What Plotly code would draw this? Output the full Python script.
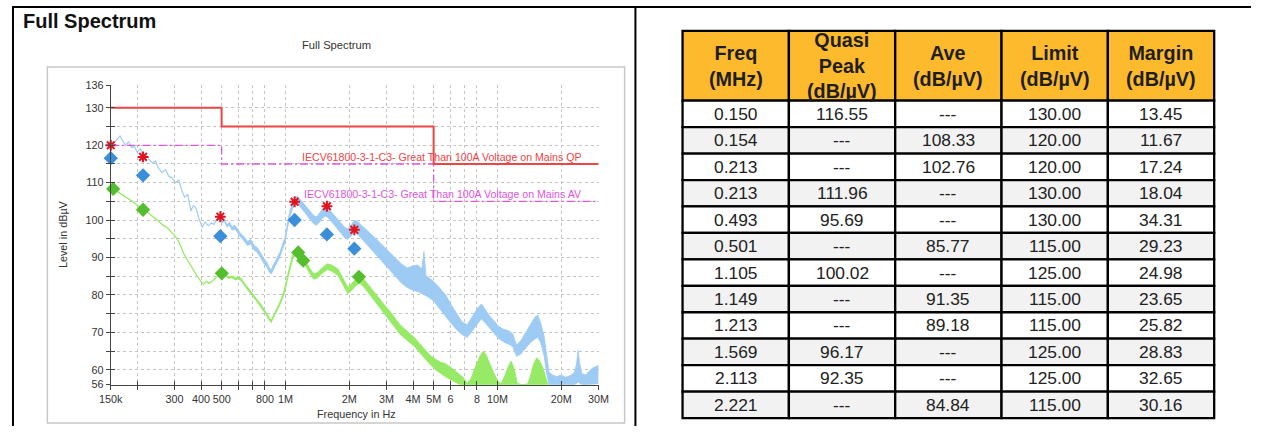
import numpy as np
import plotly.graph_objects as go

# ---------------------------------------------------------------------------
# Spectrum scan (frequency in MHz, level in dBµV). The scans are very noisy,
# so each one is stored as the upper and lower edge of its trace.
# ---------------------------------------------------------------------------
peak_freq_mhz = [
    0.150, 0.155, 0.160, 0.166, 0.171, 0.176, 0.182, 0.188, 0.194, 0.200,
    0.207, 0.214, 0.221, 0.228, 0.236, 0.244, 0.252, 0.262, 0.272, 0.282,
    0.292, 0.303, 0.314, 0.325, 0.335, 0.346, 0.358, 0.368, 0.378, 0.390,
    0.405, 0.418, 0.432, 0.446, 0.460, 0.475, 0.489, 0.502, 0.515, 0.530,
    0.545, 0.560, 0.578, 0.595, 0.615, 0.638, 0.662, 0.686, 0.712, 0.738,
    0.765, 0.792, 0.820, 0.840, 0.858, 0.875, 0.895, 0.920, 0.945, 0.970,
    0.995, 1.02, 1.05, 1.08, 1.11, 1.14, 1.18, 1.22, 1.26, 1.31,
    1.36, 1.40, 1.45, 1.50, 1.55, 1.60, 1.67, 1.74, 1.82, 1.90,
    1.97, 2.04, 2.12, 2.20, 2.30, 2.42, 2.56, 2.72, 2.90, 3.10,
    3.30, 3.52, 3.75, 4.00, 4.20, 4.40, 4.50, 4.60, 4.80, 5.00,
    5.35, 5.70, 6.05, 6.40, 6.80, 7.20, 7.60, 8.00, 8.40, 8.80,
    9.20, 9.60, 10.1, 10.7, 11.3, 11.8, 12.3, 12.9, 13.6, 14.3,
    15.0, 15.5, 16.0, 16.6, 17.1, 17.5, 18.2, 19.0, 20.0, 21.0,
    22.0, 23.0, 23.6, 24.0, 24.4, 25.0, 26.0, 27.0, 28.0, 29.0,
    30.0,
]
peak_upper = [
    119.6, 120.8, 121.5, 122.6, 121.2, 120.2, 121.0, 119.5, 119.8, 118.2,
    119.2, 117.0, 117.6, 116.2, 115.3, 115.9, 113.9, 112.8, 113.6, 111.8,
    111.4, 110.1, 110.8, 107.9, 106.2, 107.0, 102.6, 104.0, 103.4, 100.6,
    98.2, 99.6, 98.6, 99.3, 99.0, 100.2, 100.8, 99.6, 100.1, 98.8,
    99.4, 98.2, 98.6, 97.4, 96.4, 95.6, 94.3, 94.8, 93.2, 92.6,
    91.0, 89.7, 88.6, 87.2, 86.7, 88.0, 88.9, 90.2, 91.6, 93.6,
    95.4, 99.0, 102.5, 104.6, 106.0, 106.4, 105.4, 104.2, 103.3, 102.3,
    101.2, 100.8, 101.8, 103.0, 103.6, 103.0, 101.8, 100.6, 99.3, 98.1,
    97.6, 98.8, 100.0, 99.5, 98.4, 97.3, 96.0, 94.6, 93.0, 91.4,
    89.8, 88.3, 87.2, 87.8, 88.0, 87.0, 91.6, 85.2, 84.4, 83.6,
    81.8, 80.0, 77.4, 75.0, 72.8, 72.0, 74.3, 76.2, 77.6, 76.0,
    74.3, 73.2, 71.6, 70.8, 70.4, 69.6, 66.6, 67.8, 70.0, 72.2,
    74.0, 74.6, 72.4, 69.0, 64.0, 59.4, 58.6, 58.2, 58.5, 58.0,
    58.4, 59.2, 61.5, 65.2, 61.8, 59.0, 58.6, 59.4, 60.4, 60.8,
    61.2,
]
peak_lower = [
    119.4, 120.6, 121.3, 122.4, 121.0, 120.0, 120.8, 119.3, 119.6, 118.0,
    119.0, 116.8, 117.4, 116.0, 115.1, 115.7, 113.7, 112.6, 113.4, 111.6,
    111.2, 109.9, 110.6, 107.7, 106.0, 106.8, 102.4, 103.8, 103.2, 100.4,
    98.0, 99.4, 98.4, 99.1, 98.8, 100.0, 100.6, 99.3, 99.6, 98.2,
    98.6, 97.3, 97.6, 96.4, 95.4, 94.5, 93.2, 93.6, 92.0, 91.3,
    89.7, 88.4, 87.3, 86.0, 85.6, 86.8, 87.7, 89.0, 90.4, 92.3,
    94.0, 97.5, 101.0, 103.0, 104.2, 104.5, 103.4, 102.1, 101.1, 100.1,
    99.0, 98.6, 99.5, 100.6, 101.1, 100.5, 99.2, 97.9, 96.5, 95.3,
    94.8, 95.8, 96.8, 96.1, 94.9, 93.6, 92.1, 90.4, 88.7, 86.8,
    85.0, 83.2, 82.0, 81.2, 80.9, 80.4, 80.2, 79.8, 79.1, 78.4,
    76.2, 74.4, 72.4, 70.8, 69.4, 68.6, 70.4, 72.2, 73.6, 72.4,
    71.0, 69.8, 68.4, 67.4, 66.8, 66.2, 63.6, 64.2, 65.8, 67.2,
    68.2, 68.6, 67.2, 63.7, 58.7, 56.0, 56.0, 56.0, 56.0, 56.0,
    56.0, 56.0, 56.3, 56.8, 56.4, 56.0, 56.0, 56.0, 56.0, 56.2,
    56.4,
]

avg_freq_mhz = [
    0.150, 0.158, 0.166, 0.175, 0.185, 0.195, 0.205, 0.215, 0.226, 0.238,
    0.250, 0.262, 0.275, 0.288, 0.300, 0.312, 0.323, 0.334, 0.346, 0.358,
    0.372, 0.386, 0.400, 0.412, 0.424, 0.436, 0.448, 0.460, 0.474, 0.490,
    0.506, 0.522, 0.540, 0.560, 0.580, 0.600, 0.620, 0.645, 0.672, 0.700,
    0.730, 0.765, 0.800, 0.830, 0.855, 0.880, 0.905, 0.930, 0.960, 0.990,
    1.02, 1.05, 1.08, 1.12, 1.16, 1.20, 1.25, 1.30, 1.36, 1.42,
    1.50, 1.58, 1.66, 1.77, 1.87, 1.97, 2.05, 2.15, 2.24, 2.36,
    2.49, 2.63, 2.79, 2.95, 3.10, 3.28, 3.46, 3.65, 3.85, 4.05,
    4.25, 4.50, 4.80, 5.10, 5.40, 5.70, 6.00, 6.30, 6.60, 6.90,
    7.20, 7.50, 7.90, 8.30, 8.60, 8.90, 9.30, 9.70, 10.1, 10.4,
    10.8, 11.2, 11.6, 12.0, 12.4, 13.0, 13.9, 14.3, 14.8, 15.3,
    15.8, 16.4, 17.0, 17.3,
]
avg_upper = [
    108.9, 108.0, 107.3, 106.3, 105.5, 104.6, 103.6, 103.0, 101.9, 100.9,
    100.0, 98.9, 98.2, 97.1, 96.0, 94.6, 92.6, 90.8, 89.3, 87.8,
    86.4, 84.9, 83.6, 83.0, 83.7, 83.2, 83.6, 84.1, 84.9, 85.8,
    86.4, 85.4, 84.8, 85.1, 84.5, 84.9, 84.3, 82.9, 81.5, 80.4,
    79.0, 77.5, 75.8, 74.3, 73.2, 74.6, 75.9, 77.4, 79.3, 81.6,
    85.0, 88.2, 90.6, 91.9, 92.3, 90.6, 88.8, 87.2, 85.6, 86.0,
    87.4, 88.3, 87.9, 86.9, 84.4, 82.0, 83.0, 84.4, 85.3, 84.0,
    82.3, 80.6, 78.9, 77.1, 75.7, 73.9, 72.1, 70.9, 69.8, 68.6,
    67.3, 65.6, 63.9, 62.8, 62.0, 61.6, 60.8, 59.8, 58.8, 57.9,
    56.4, 57.6, 61.0, 63.8, 65.0, 63.6, 61.0, 58.6, 56.8, 56.2,
    58.2, 60.6, 62.3, 60.2, 56.4, 56.0, 56.2, 58.2, 61.4, 63.2,
    62.4, 60.4, 57.4, 56.0,
]
avg_lower = [
    108.7, 107.8, 107.1, 106.1, 105.3, 104.4, 103.4, 102.8, 101.7, 100.7,
    99.8, 98.7, 98.0, 96.9, 95.8, 94.4, 92.4, 90.6, 89.1, 87.6,
    86.2, 84.7, 83.4, 82.8, 83.5, 83.0, 83.4, 83.9, 84.7, 85.6,
    86.1, 85.0, 84.4, 84.6, 84.0, 84.3, 83.7, 82.3, 80.9, 79.8,
    78.4, 76.9, 75.2, 73.7, 72.6, 74.0, 75.3, 76.7, 78.5, 80.6,
    83.9, 87.1, 89.5, 90.7, 91.1, 89.3, 87.4, 85.8, 84.2, 84.6,
    85.9, 86.8, 86.3, 85.2, 82.7, 80.3, 81.2, 82.5, 83.2, 81.9,
    80.2, 78.4, 76.6, 74.6, 73.0, 71.3, 69.6, 68.4, 67.4, 66.3,
    64.9, 63.2, 61.5, 60.0, 58.9, 58.1, 57.4, 56.7, 56.1, 56.0,
    56.0, 56.0, 56.0, 56.0, 56.0, 56.0, 56.0, 56.0, 56.0, 56.0,
    56.0, 56.0, 56.0, 56.0, 56.0, 56.0, 56.0, 56.0, 56.0, 56.0,
    56.0, 56.0, 56.0, 56.0,
]

# Limit lines (step functions, value holds until the next break frequency)
limit_freq_mhz = [0.15, 0.5, 5.0, 30.0]
qp_limit_db = [130, 125, 115, 115]
av_limit_db = [120, 115, 105, 105]
qp_limit_name = "IECV61800-3-1-C3- Great Than 100A Voltage on Mains QP"
av_limit_name = "IECV61800-3-1-C3- Great Than 100A Voltage on Mains AV"

# Final measurements
meas_freq_mhz = [0.150, 0.154, 0.213, 0.213, 0.493, 0.501,
                 1.105, 1.149, 1.213, 1.569, 2.113, 2.221]
qp_level = [116.55, None, None, 111.96, 95.69, None,
            100.02, None, None, 96.17, 92.35, None]
ave_level = [None, 108.33, 102.76, None, None, 85.77,
             None, 91.35, 89.18, None, None, 84.84]
limit_level = [130.00, 120.00, 120.00, 130.00, 130.00, 115.00,
               125.00, 115.00, 115.00, 125.00, 125.00, 115.00]
margin_db = [13.45, 11.67, 17.24, 18.04, 34.31, 29.23,
             24.98, 23.65, 25.82, 28.83, 32.65, 30.16]
# preview peak level found at each quasi-peak frequency
qp_preview_peak = [120.0, 116.9, 100.9, 104.9, 103.7, 97.4]

table_headers = ["Freq<br>(MHz)", "Quasi<br>Peak<br>(dB/µV)", "Ave<br>(dB/µV)",
                 "Limit<br>(dB/µV)", "Margin<br>(dB/µV)"]

# Axis ticks
x_tick_hz = [150e3, 200e3, 300e3, 400e3, 500e3, 600e3, 700e3, 800e3, 1e6,
             2e6, 3e6, 4e6, 5e6, 6e6, 7e6, 8e6, 10e6, 20e6, 30e6]
x_tick_text = ["150k", "", "300", "400", "500", "", "", "800", "1M",
               "2M", "3M", "4M", "5M", "6", "", "8", "10M", "20M", "30M"]
y_tick_vals = [56, 60, 65, 70, 75, 80, 85, 90, 95, 100, 105, 110, 115,
               120, 125, 130, 136]
y_tick_text = ["56", "60", "", "70", "", "80", "", "90", "", "100", "",
               "110", "", "120", "", "130", "136"]

# ---------------------------------------------------------------------------
# Page geometry (pixels) and helpers
# ---------------------------------------------------------------------------
W, H = 1262, 432
FONT = "Liberation Sans"

def fx(px):
    return px / W

def fy(py):
    return 1 - py / H

PLOT_L, PLOT_R, PLOT_T, PLOT_B = 100.6, 597.5, 81.7, 389.5

BLUE_SCAN = "#9ECBF4"
GREEN_SCAN = "#96EA66"
QP_RED = "#EE4444"
AV_MAGENTA = "#DD55DD"
STAR_RED = "#E0141E"
AXIS = "#444444"
GRID = "#C4C4C4"


def mhz(seq):
    """MHz list -> Hz array, rounded to whole Hz so 0.15 MHz lands exactly on 150 kHz."""
    return np.round(np.asarray(seq, dtype=float) * 1e6)


fig = go.Figure()

# Peak scan band
fig.add_trace(go.Scatter(x=mhz(peak_freq_mhz), y=peak_lower, mode="lines",
                         line=dict(color=BLUE_SCAN, width=0.8), hoverinfo="skip"))
fig.add_trace(go.Scatter(x=mhz(peak_freq_mhz), y=peak_upper, mode="lines",
                         fill="tonexty", fillcolor=BLUE_SCAN,
                         line=dict(color=BLUE_SCAN, width=0.8), hoverinfo="skip"))
# Average scan band
fig.add_trace(go.Scatter(x=mhz(avg_freq_mhz), y=avg_lower, mode="lines",
                         line=dict(color=GREEN_SCAN, width=0.9), hoverinfo="skip"))
fig.add_trace(go.Scatter(x=mhz(avg_freq_mhz), y=avg_upper, mode="lines",
                         fill="tonexty", fillcolor=GREEN_SCAN,
                         line=dict(color=GREEN_SCAN, width=0.9), hoverinfo="skip"))

# Limit lines live on the overlay axes (x2/y2) that carry the inner tick marks
fig.add_trace(go.Scatter(x=mhz(limit_freq_mhz), y=av_limit_db, mode="lines",
                         line=dict(color=AV_MAGENTA, width=1.3, shape="hv",
                                   dash="8px,3px,2px,3px"),
                         xaxis="x2", yaxis="y2"))
fig.add_trace(go.Scatter(x=mhz(limit_freq_mhz), y=qp_limit_db, mode="lines",
                         line=dict(color=QP_RED, width=2, shape="hv"),
                         xaxis="x2", yaxis="y2"))

# Final measurement markers (not clipped at the 150 kHz edge)
qp_f = [f for f, v in zip(meas_freq_mhz, qp_level) if v is not None]
qp_v = [v for v in qp_level if v is not None]
av_f = [f for f, v in zip(meas_freq_mhz, ave_level) if v is not None]
av_v = [v for v in ave_level if v is not None]

fig.add_trace(go.Scatter(x=mhz(qp_f), y=qp_preview_peak, mode="markers",
                         cliponaxis=False,
                         marker=dict(symbol="asterisk-open", size=9, color=STAR_RED,
                                     line=dict(color=STAR_RED, width=2.0))))
fig.add_trace(go.Scatter(x=mhz(qp_f), y=qp_v, mode="markers", cliponaxis=False,
                         marker=dict(symbol="diamond", size=11, color="#3A8EDA")))
fig.add_trace(go.Scatter(x=mhz(av_f), y=av_v, mode="markers", cliponaxis=False,
                         marker=dict(symbol="diamond", size=11, color="#55BE2E")))

# slightly padded range so the 150 kHz / 30 MHz points sit inside the axis
x_range = [np.log10(150e3) - 1e-6, np.log10(30e6) + 1e-6]
tick_font = dict(family=FONT, size=10.8, color="#333333")

annotations = [
    dict(text="Full Spectrum", x=fx(9), y=fy(15.5), xref="paper", yref="paper",
         xanchor="left", yanchor="middle", showarrow=False,
         font=dict(family=FONT, size=20, color="#111111", weight="bold")),
    dict(text="Full Spectrum", x=fx(330.5), y=fy(40), xref="paper", yref="paper",
         xanchor="center", yanchor="middle", showarrow=False,
         font=dict(family=FONT, size=11.2, color="#333333")),
    dict(text="Level in dBµV", x=fx(52), y=fy(234.5), xref="paper", yref="paper",
         textangle=-90, xanchor="center", yanchor="middle", showarrow=False,
         font=dict(family=FONT, size=10.8, color="#333333")),
    dict(text="Frequency in Hz", x=fx(351), y=fy(419.5), xref="paper", yref="paper",
         xanchor="center", yanchor="middle", showarrow=False,
         font=dict(family=FONT, size=10.8, color="#333333")),
    dict(text=qp_limit_name, x=fx(583), y=qp_limit_db[-1], xref="paper", yref="y",
         xanchor="right", yanchor="middle", yshift=7, showarrow=False,
         font=dict(family=FONT, size=10.6, color=QP_RED)),
    dict(text=av_limit_name, x=fx(583), y=av_limit_db[-1], xref="paper", yref="y",
         xanchor="right", yanchor="middle", yshift=7, showarrow=False,
         font=dict(family=FONT, size=10.6, color=AV_MAGENTA)),
]

shapes = [
    # page frame and panel divider
    dict(type="line", xref="paper", yref="paper", x0=0, x1=1, y0=fy(1), y1=fy(1),
         line=dict(color="black", width=2)),
    dict(type="line", xref="paper", yref="paper", x0=fx(1), x1=fx(1), y0=fy(1), y1=0,
         line=dict(color="black", width=2)),
    dict(type="line", xref="paper", yref="paper", x0=fx(635), x1=fx(635), y0=fy(1), y1=0,
         line=dict(color="black", width=2)),
    # chart panel border
    dict(type="rect", xref="paper", yref="paper", x0=fx(36), x1=fx(624),
         y0=fy(429), y1=fy(62.7), line=dict(color="#C8C8C8", width=1.5)),
]

# ---------------------------------------------------------------------------
# Results table
# ---------------------------------------------------------------------------
TBL_X0, COL_W = 683.0, 108.3
HDR_Y0, HDR_H, ROW_H = 25.6, 71.8, 27.2
HDR_FILL = "#FDBA2C"
GRID_LINE = dict(color="black", width=2.3)

def fmt(v, nd):
    return "---" if v is None else f"{v:.{nd}f}"

columns = [
    [fmt(v, 3) for v in meas_freq_mhz],
    [fmt(v, 2) for v in qp_level],
    [fmt(v, 2) for v in ave_level],
    [fmt(v, 2) for v in limit_level],
    [fmt(v, 2) for v in margin_db],
]

for c, (title, values) in enumerate(zip(table_headers, columns)):
    x0 = TBL_X0 + c * COL_W
    x1 = x0 + COL_W
    xc = fx((x0 + x1) / 2)
    shapes.append(dict(type="rect", xref="paper", yref="paper",
                       x0=fx(x0), x1=fx(x1), y0=fy(HDR_Y0 + HDR_H), y1=fy(HDR_Y0),
                       fillcolor=HDR_FILL, line=GRID_LINE, layer="below"))
    annotations.append(dict(text=title, x=xc, y=fy(HDR_Y0 + HDR_H / 2),
                            xref="paper", yref="paper", xanchor="center",
                            yanchor="middle", showarrow=False,
                            font=dict(family=FONT, size=19.8, color="#1E1E1E",
                                      weight="bold")))
    for r, txt in enumerate(values):
        y0 = HDR_Y0 + HDR_H + r * ROW_H
        shapes.append(dict(type="rect", xref="paper", yref="paper",
                           x0=fx(x0), x1=fx(x1), y0=fy(y0 + ROW_H), y1=fy(y0),
                           fillcolor="#FFFFFF" if r % 2 == 0 else "#F2F2F2",
                           line=GRID_LINE, layer="below"))
        annotations.append(dict(text=txt, x=xc, y=fy(y0 + ROW_H / 2),
                                xref="paper", yref="paper", xanchor="center",
                                yanchor="middle", showarrow=False,
                                font=dict(family=FONT, size=17.4, color="#222222")))

fig.update_layout(
    width=W, height=H, autosize=False,
    margin=dict(l=0, r=0, t=0, b=0),
    paper_bgcolor="white", plot_bgcolor="white",
    showlegend=False,
    xaxis=dict(type="log", range=x_range, domain=[fx(PLOT_L), fx(PLOT_R)],
               anchor="y", tickmode="array", tickvals=x_tick_hz,
               ticktext=x_tick_text, ticks="outside", ticklen=4,
               tickcolor=AXIS, showline=True, linecolor=AXIS, linewidth=1.2,
               showgrid=True, gridcolor=GRID, griddash="dot", gridwidth=1,
               zeroline=False, tickfont=tick_font),
    xaxis2=dict(type="log", range=x_range, overlaying="x", anchor="y",
                side="bottom", tickmode="array", tickvals=x_tick_hz,
                showticklabels=False, ticks="inside", ticklen=4,
                tickcolor=AXIS, showgrid=False, showline=False, zeroline=False),
    yaxis=dict(range=[56, 136], domain=[fy(PLOT_B), fy(PLOT_T)], anchor="x",
               tickmode="array", tickvals=y_tick_vals, ticktext=y_tick_text,
               ticks="outside", ticklen=4, tickcolor=AXIS, showline=True,
               linecolor=AXIS, linewidth=1.2, showgrid=True, gridcolor=GRID,
               griddash="dot", gridwidth=1, zeroline=False, tickfont=tick_font),
    yaxis2=dict(range=[56, 136], overlaying="y", anchor="x", side="left",
                tickmode="array", tickvals=y_tick_vals, showticklabels=False,
                ticks="inside", ticklen=4, tickcolor=AXIS, showgrid=False,
                showline=False, zeroline=False),
    annotations=annotations,
    shapes=shapes,
)

fig.write_html("out.html")
